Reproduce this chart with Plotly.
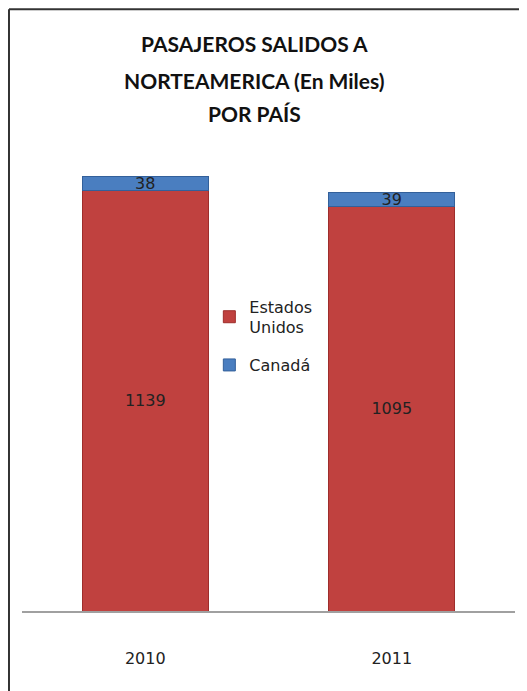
import plotly.graph_objects as go

years = ['2010', '2011']
estados_unidos = [1139, 1095]
canada = [38, 39]
title_lines = ['PASAJEROS SALIDOS A', 'NORTEAMERICA (En Miles)', 'POR PAÍS']

FONT = 'DejaVu Sans'
TITLE_FONT = 'Lato'

fig = go.Figure()

fig.add_trace(go.Bar(
    x = years,
    y = estados_unidos,
    name = 'Estados<br>Unidos',
    legendgroup = 'us',
    marker = dict(color = '#C0413F', line = dict(color = '#9E2D2B', width = 1)),
    text = estados_unidos,
    textposition = 'inside',
    insidetextanchor = 'middle',
    textangle = 0,
    textfont = dict(family = FONT, size = 16, color = '#222222'),
    width = 0.51
))

fig.add_trace(go.Bar(
    x = years,
    y = canada,
    name = 'Canadá',
    legendgroup = 'ca',
    marker = dict(color = '#4A7EC0', line = dict(color = '#33609A', width = 1)),
    text = canada,
    textposition = 'inside',
    insidetextanchor = 'middle',
    textangle = 0,
    textfont = dict(family = FONT, size = 16, color = '#222222'),
    constraintext = 'none',
    width = 0.51
))

fig.update_layout(
    width = 527,
    height = 691,
    barmode = 'stack',
    plot_bgcolor = 'white',
    paper_bgcolor = 'white',
    font = dict(family = FONT, size = 16, color = '#222222'),
    margin = { 'l': 14, 'r': 20, 't': 86, 'b': 88 },
    uniformtext = dict(minsize = 12, mode = 'show'),
    legend = dict(
        x = 0.38,
        y = 0.622,
        xanchor = 'left',
        yanchor = 'top',
        traceorder = 'grouped',
        bgcolor = 'rgba(255,255,255,0)',
        font = dict(family = FONT, size = 16, color = '#222222'),
        itemwidth = 30,
        tracegroupgap = 14
    ),
    bargap = 0.49
)

# title, one annotation per line to get the wide line spacing
for text, ypos in zip(title_lines, [1.097, 1.027, 0.963]):
    fig.add_annotation(
        text = '<b>' + text + '</b>',
        xref = 'paper', yref = 'paper',
        x = 0.471, y = ypos,
        xanchor = 'center', yanchor = 'middle',
        showarrow = False,
        font = dict(family = TITLE_FONT, size = 21, color = '#111111')
    )

fig.update_xaxes(
    showline = True,
    linecolor = '#A0A0A0',
    linewidth = 2,
    showgrid = False,
    ticks = '',
    ticklabelstandoff = 32,
    tickfont = dict(family = FONT, size = 16, color = '#222222')
)
fig.update_yaxes(visible = False, range = [0, 1400])

# frame lines (top and left edge of the original picture)
fig.add_shape(type = 'line', xref = 'paper', yref = 'paper',
              x0 = -0.0264, x1 = 1.05, y0 = 1.164, y1 = 1.164,
              line = dict(color = '#333333', width = 2))
fig.add_shape(type = 'line', xref = 'paper', yref = 'paper',
              x0 = -0.0264, x1 = -0.0264, y0 = -0.2, y1 = 1.164,
              line = dict(color = '#333333', width = 2))

fig.write_html("out.html")
